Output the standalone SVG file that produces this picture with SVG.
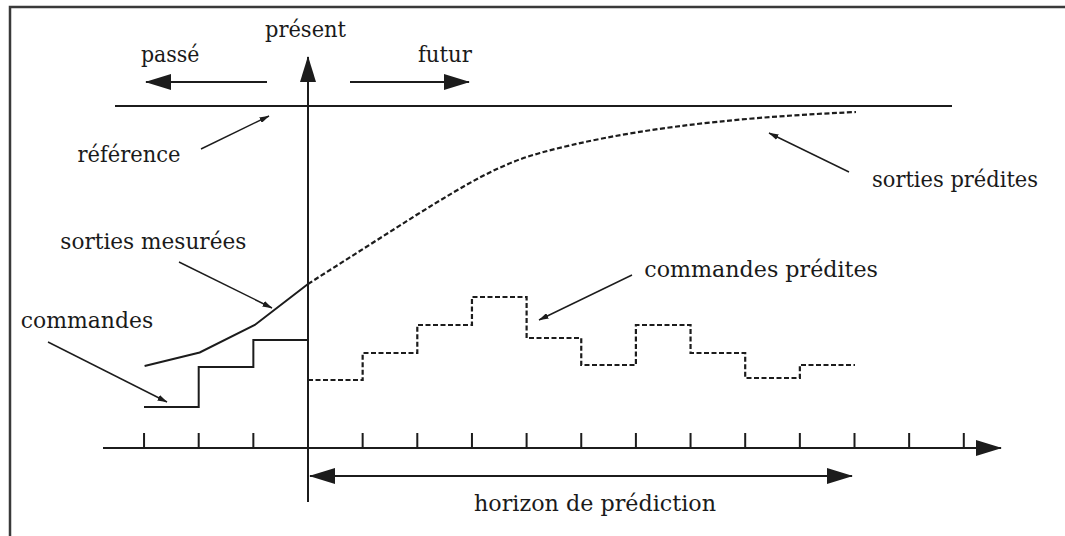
<svg xmlns="http://www.w3.org/2000/svg" width="1065" height="536" viewBox="0 0 1065 536">
<style>
.bg{fill:#fff}
.frame{fill:none;stroke:#3a3a3a;stroke-width:2.5}
.ln{fill:none;stroke:#1c1c1c;stroke-width:2}
.dash{fill:none;stroke:#1c1c1c;stroke-width:2.2;stroke-dasharray:5 2.5}
.ann{fill:none;stroke:#1c1c1c;stroke-width:1.4}
</style>
<defs>
<marker id="big" markerUnits="userSpaceOnUse" markerWidth="26" markerHeight="16" viewBox="0 0 26 16" refX="25" refY="8" orient="auto">
<path d="M0,0 L26,8 L0,16 Z" fill="#1c1c1c"/>
</marker>
<marker id="small" markerUnits="userSpaceOnUse" markerWidth="10" markerHeight="6" viewBox="0 0 10 6" refX="9.5" refY="3" orient="auto">
<path d="M0,0 L10,3 L0,6 Z" fill="#1c1c1c"/>
</marker>
</defs>
<rect class="bg" x="0" y="0" width="1065" height="536"/>
<path class="frame" d="M10,540 V7 H1070"/>

<g id="axes">
<line class="ln" x1="308" y1="502" x2="308" y2="57" marker-end="url(#big)"/>
<line class="ln" x1="103" y1="448" x2="1001" y2="448" marker-end="url(#big)"/>
<path class="ln" d="M144.05,448 V433 M198.7,448 V433 M253.35,448 V433 M362.65,448 V433 M417.3,448 V433 M471.95,448 V433 M526.6,448 V433 M581.25,448 V433 M635.9,448 V433 M690.55,448 V433 M745.2,448 V433 M799.85,448 V433 M854.5,448 V433 M909.15,448 V433 M963.8,448 V433"/>
</g>

<g id="time-arrows">
<line class="ln" x1="267" y1="82" x2="146" y2="82" marker-end="url(#big)"/>
<line class="ln" x1="350" y1="82" x2="469" y2="82" marker-end="url(#big)"/>
<line class="ln" x1="330" y1="476" x2="310" y2="476" marker-end="url(#big)"/>
<line class="ln" x1="320" y1="476" x2="852" y2="476" marker-end="url(#big)"/>
</g>

<g id="reference">
<line class="ln" x1="115" y1="106" x2="952" y2="106"/>
</g>

<g id="measured-outputs">
<polyline class="ln" points="144.6,366 199.7,352.5 254.8,325 308,284"/>
</g>

<g id="past-commands">
<path class="ln" d="M144,407 H198.7 V367 H253.35 V340 H308"/>
</g>

<g id="predicted-outputs">
<path class="dash" d="M308,284 L418,214 C468,183 500,164 540,153 C620,131 720,118 856,112"/>
</g>

<g id="predicted-commands">
<path class="dash" d="M308,380 H362.65 V353 H417.3 V325 H471.95 V297 H526.6 V338 H581.25 V365 H635.9 V325 H690.55 V353 H745.2 V378 H799.85 V365 H855"/>
</g>

<g id="connectors">
<line class="ann" x1="201" y1="149" x2="269" y2="116" marker-end="url(#small)"/>
<line class="ann" x1="179" y1="262" x2="272" y2="308" marker-end="url(#small)"/>
<line class="ann" x1="48" y1="342" x2="167" y2="402" marker-end="url(#small)"/>
<line class="ann" x1="632" y1="275" x2="539" y2="320" marker-end="url(#small)"/>
<line class="ann" x1="849" y1="172" x2="769" y2="133" marker-end="url(#small)"/>
</g>

<g id="labels" font-family="DejaVu Serif, serif" font-size="21.5" fill="#1a1a1a">
<text x="265" y="36.5" textLength="81" lengthAdjust="spacingAndGlyphs">présent</text>
<text x="141" y="62" textLength="58.5" lengthAdjust="spacingAndGlyphs">passé</text>
<text x="418" y="62" textLength="54" lengthAdjust="spacingAndGlyphs">futur</text>
<text x="77.5" y="162" textLength="103" lengthAdjust="spacingAndGlyphs">référence</text>
<text x="872" y="187" textLength="166" lengthAdjust="spacingAndGlyphs">sorties prédites</text>
<text x="60.3" y="248.5" textLength="186" lengthAdjust="spacingAndGlyphs">sorties mesurées</text>
<text x="20.7" y="327.5" textLength="132.5" lengthAdjust="spacingAndGlyphs">commandes</text>
<text x="644.3" y="277" textLength="233.7" lengthAdjust="spacingAndGlyphs">commandes prédites</text>
<text x="474" y="511" textLength="242" lengthAdjust="spacingAndGlyphs">horizon de prédiction</text>
</g>
</svg>
